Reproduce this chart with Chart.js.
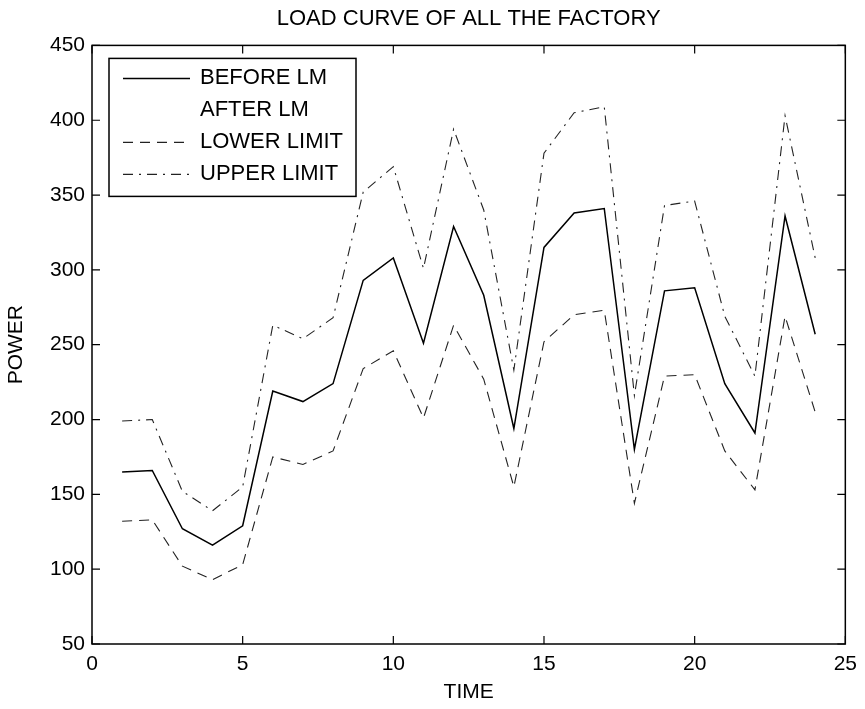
<!DOCTYPE html>
<html>
<head>
<meta charset="utf-8">
<script src="https://cdn.jsdelivr.net/npm/chart.js@4.4.1/dist/chart.umd.min.js"></script>
<style>
  html, body { margin: 0; padding: 0; background: #fff; }
  #wrap { width: 865px; height: 709px; }
</style>
</head>
<body>
<div id="wrap"><canvas id="loadChart" width="865" height="709"></canvas></div>
<script>
// hours of the day
const timeSteps = [1, 2, 3, 4, 5, 6, 7, 8, 9, 10, 11, 12, 13, 14, 15, 16, 17, 18, 19, 20, 21, 22, 23, 24];

// load
const beforeLM = [165, 166, 127, 116, 129, 219, 212, 224, 293, 308, 251, 329, 283, 194, 315, 338, 341, 180, 286, 288, 224, 191, 336, 257];
const afterLM = [];
const lowerLimit = [132, 133, 102, 93, 103, 175, 170, 179, 234, 246, 201, 263, 227, 155, 252, 270, 273, 144, 229, 230, 179, 153, 269, 205];
const upperLimit = [199, 200, 152, 139, 155, 263, 254, 268, 352, 369, 301, 394, 340, 233, 378, 405, 409, 216, 343, 346, 269, 229, 403, 308];

const xTicks = [0, 5, 10, 15, 20, 25];
const yTicks = [50, 100, 150, 200, 250, 300, 350, 400, 450];

const FONT = "'Liberation Sans', Arial, sans-serif";

function pts(vals) {
    return vals.map((v, i) => ({ x: timeSteps[i], y: v }));
}

// matlab style box: inward ticks on all four sides
const boxTicks = {
    id: 'boxTicks',
    afterDraw(chart) {
        const { ctx, chartArea: a, scales } = chart;
        const len = 8;
        ctx.save();
        ctx.strokeStyle = '#000';
        ctx.lineWidth = 1.5;
        ctx.strokeRect(a.left, a.top, a.right - a.left, a.bottom - a.top);
        ctx.lineWidth = 1.2;
        ctx.beginPath();
        xTicks.forEach(t => {
            const px = scales.x.getPixelForValue(t);
            ctx.moveTo(px, a.bottom); ctx.lineTo(px, a.bottom - len);
            ctx.moveTo(px, a.top); ctx.lineTo(px, a.top + len);
        });
        yTicks.forEach(t => {
            const py = scales.y.getPixelForValue(t);
            ctx.moveTo(a.left, py); ctx.lineTo(a.left + len, py);
            ctx.moveTo(a.right, py); ctx.lineTo(a.right - len, py);
        });
        ctx.stroke();
        ctx.restore();
    }
};

// legend box inside the plot, upper left
const boxLegend = {
    id: 'boxLegend',
    afterDraw(chart) {
        const { ctx, chartArea: a } = chart;
        const x0 = a.left + 17, y0 = a.top + 13;
        const w = 247, h = 138;
        ctx.save();
        ctx.fillStyle = '#fff';
        ctx.fillRect(x0, y0, w, h);
        ctx.strokeStyle = '#000';
        ctx.lineWidth = 1.5;
        ctx.strokeRect(x0, y0, w, h);
        ctx.font = '22px ' + FONT;
        ctx.textBaseline = 'middle';
        chart.data.datasets.forEach((ds, i) => {
            const yy = y0 + 20 + i * 32;
            ctx.strokeStyle = ds.borderColor;
            ctx.lineWidth = ds.borderWidth;
            ctx.setLineDash(ds.borderDash || []);
            ctx.beginPath();
            ctx.moveTo(x0 + 14, yy);
            ctx.lineTo(x0 + 81, yy);
            ctx.stroke();
            ctx.setLineDash([]);
            ctx.fillStyle = '#000';
            ctx.fillText(ds.label, x0 + 91, yy);
        });
        ctx.restore();
    }
};

new Chart(document.getElementById('loadChart').getContext('2d'), {
    type: 'line',
    data: {
        datasets: [
            { label: 'BEFORE LM', data: pts(beforeLM), borderColor: '#000', borderWidth: 1.5, pointRadius: 0 },
            { label: 'AFTER LM', data: pts(afterLM), borderColor: 'rgba(0,0,0,0)', borderWidth: 1.5, pointRadius: 0 },
            { label: 'LOWER LIMIT', data: pts(lowerLimit), borderColor: '#222', borderWidth: 1.1, borderDash: [10, 7], pointRadius: 0 },
            { label: 'UPPER LIMIT', data: pts(upperLimit), borderColor: '#222', borderWidth: 1.1, borderDash: [10, 6, 2, 6], pointRadius: 0 }
        ]
    },
    options: {
        responsive: false,
        animation: false,
        layout: { padding: { left: 0, right: 0, top: 2, bottom: 0 } },
        plugins: {
            legend: { display: false },
            tooltip: { enabled: false },
            title: {
                display: true,
                fullSize: false,
                text: 'LOAD CURVE OF ALL THE FACTORY',
                color: '#000',
                font: { family: FONT, size: 22, weight: 'normal' },
                padding: { top: 4, bottom: 13 }
            }
        },
        scales: {
            x: {
                type: 'linear',
                min: 0,
                max: 25,
                afterBuildTicks: s => { s.ticks = xTicks.map(v => ({ value: v })); },
                afterFit: s => { s.height = 65; },
                grid: { display: false, drawTicks: false },
                border: { display: false },
                ticks: { color: '#000', padding: 8, maxRotation: 0, font: { family: FONT, size: 21 } },
                title: { display: true, text: 'TIME', color: '#000', padding: { top: 2 }, font: { family: FONT, size: 21 } }
            },
            y: {
                min: 50,
                max: 450,
                afterBuildTicks: s => { s.ticks = yTicks.map(v => ({ value: v })); },
                afterFit: s => { s.width = 92; },
                grid: { display: false, drawTicks: false },
                border: { display: false },
                ticks: { color: '#000', padding: 7, font: { family: FONT, size: 21 } },
                title: { display: true, text: 'POWER', color: '#000', padding: { bottom: 0 }, font: { family: FONT, size: 21 } }
            }
        }
    },
    plugins: [boxTicks, boxLegend]
});
</script>
</body>
</html>
